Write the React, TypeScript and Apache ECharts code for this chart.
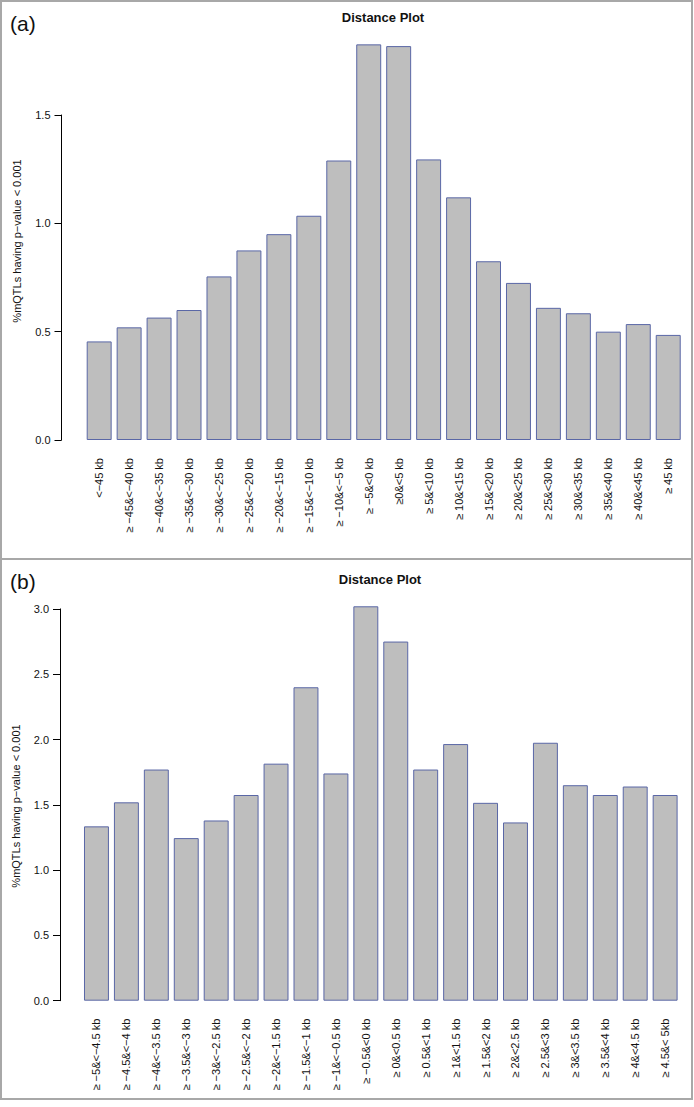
import React, { useEffect, useRef } from "react";
import * as echarts from "echarts";

const categoriesA = [
  "<−45 kb", "≥ −45&<−40 kb", "≥ −40&<−35 kb", "≥ −35&<−30 kb", "≥ −30&<−25 kb",
  "≥ −25&<−20 kb", "≥ −20&<−15 kb", "≥ −15&<−10 kb", "≥ −10&<−5 kb", "≥ −5&<0 kb",
  "≥0&<5 kb", "≥ 5&<10 kb", "≥ 10&<15 kb", "≥ 15&<20 kb", "≥ 20&<25 kb",
  "≥ 25&<30 kb", "≥ 30&<35 kb", "≥ 35&<40 kb", "≥ 40&<45 kb", "≥ 45 kb",
];
const valuesA = [
  0.455, 0.52, 0.565, 0.6, 0.755, 0.875, 0.95, 1.035, 1.29, 1.826,
  1.818, 1.295, 1.12, 0.825, 0.725, 0.61, 0.585, 0.5, 0.535, 0.485,
];

const categoriesB = [
  "≥ −5&<−4.5 kb", "≥ −4.5&<−4 kb", "≥ −4&<−3.5 kb", "≥ −3.5&<−3 kb", "≥ −3&<−2.5 kb",
  "≥ −2.5&<−2 kb", "≥ −2&<−1.5 kb", "≥ −1.5&<−1 kb", "≥ −1&<−0.5 kb", "≥ −0.5&<0 kb",
  "≥ 0&<0.5 kb", "≥ 0.5&<1 kb", "≥ 1&<1.5 kb", "≥ 1.5&<2 kb", "≥ 2&<2.5 kb",
  "≥ 2.5&<3 kb", "≥ 3&<3.5 kb", "≥ 3.5&<4 kb", "≥ 4&<4.5 kb", "≥ 4.5&< 5kb",
];
const valuesB = [
  1.335, 1.519, 1.77, 1.245, 1.38, 1.575, 1.815, 2.4, 1.74, 3.02,
  2.75, 1.77, 1.965, 1.515, 1.365, 1.975, 1.65, 1.575, 1.64, 1.575,
];

const yTicksA = { min: 0, max: 1.5, interval: 0.5 };
const yTicksB = { min: 0, max: 3.0, interval: 0.5 };

const titleText = "Distance Plot";
const yName = "%mQTLs having p−value < 0.001";
const panelLabels = ["(a)", "(b)"];

const FONT = "'Liberation Sans', Arial, Helvetica, sans-serif";

function txt(text: string, x: number, y: number, size: number, opts: any = {}) {
  return {
    type: "text",
    x,
    y,
    rotation: opts.rotation || 0,
    style: {
      text,
      fontSize: size,
      fontFamily: FONT,
      fontWeight: opts.bold ? "bold" : "normal",
      fill: "#111",
      align: opts.align || "center",
      verticalAlign: "middle",
      textAlign: opts.align || "center",
      textVerticalAlign: "middle",
    },
  };
}

export default function App() {
  const ref = useRef<HTMLDivElement>(null);
  useEffect(() => {
    if (!ref.current) return;
    const chart = echarts.init(ref.current, null, { renderer: "svg" });
    const yAxisCommon = (t: any, offset: number) => ({
      type: "value",
      min: t.min,
      max: t.max,
      interval: t.interval,
      offset,
      axisLine: { show: true, lineStyle: { color: "#000", width: 1 } },
      axisTick: { show: true, length: 7, lineStyle: { color: "#000" } },
      axisLabel: {
        show: true,
        margin: 11,
        fontSize: 11,
        fontFamily: FONT,
        color: "#111",
        formatter: (v: number) => v.toFixed(1),
      },
      splitLine: { show: false },
    });
    const xAxisCommon = (cats: string[], gridIndex: number) => ({
      type: "category",
      gridIndex,
      data: cats,
      axisLine: { show: false },
      axisTick: { show: false },
      axisLabel: {
        interval: 0,
        rotate: 90,
        margin: 18,
        fontSize: 11,
        fontFamily: FONT,
        color: "#111",
      },
    });
    const barStyle = {
      color: "#bebebe",
      borderColor: "#5a67a6",
      borderWidth: 1,
    };
    chart.setOption({
      animation: false,
      backgroundColor: "#fff",
      grid: [
        { left: 84.2, right: 10.8, top: 115, height: 325 },
        { left: 81.5, right: 13.9, top: 608.9, height: 391.8 },
      ],
      xAxis: [xAxisCommon(categoriesA, 0), xAxisCommon(categoriesB, 1)],
      yAxis: [
        { ...yAxisCommon(yTicksA, 22.7), gridIndex: 0 },
        { ...yAxisCommon(yTicksB, 21.5), gridIndex: 1 },
      ],
      series: [
        {
          type: "bar",
          xAxisIndex: 0,
          yAxisIndex: 0,
          data: valuesA,
          barCategoryGap: "16.67%",
          clip: false,
          itemStyle: barStyle,
        },
        {
          type: "bar",
          xAxisIndex: 1,
          yAxisIndex: 1,
          data: valuesB,
          barCategoryGap: "16.67%",
          clip: false,
          itemStyle: barStyle,
        },
      ],
      graphic: [
        {
          type: "rect",
          shape: { x: 1, y: 1, width: 691, height: 558 },
          style: { fill: "none", stroke: "#a8a8a8", lineWidth: 2 },
          silent: true,
        },
        {
          type: "rect",
          shape: { x: 1, y: 559, width: 691, height: 540 },
          style: { fill: "none", stroke: "#a8a8a8", lineWidth: 2 },
          silent: true,
        },
        txt(panelLabels[0], 10, 23, 21, { align: "left" }),
        txt(panelLabels[1], 10, 581, 21, { align: "left" }),
        txt(titleText, 383, 17, 13, { bold: true }),
        txt(titleText, 380, 579, 13, { bold: true }),
        txt(yName, 17, 241, 11, { rotation: Math.PI / 2 }),
        txt(yName, 16, 806, 11, { rotation: Math.PI / 2 }),
      ],
    });
    return () => chart.dispose();
  }, []);
  return (
    <div
      ref={ref}
      style={{ position: "absolute", left: 0, top: 0, width: 694, height: 1107 }}
    />
  );
}
